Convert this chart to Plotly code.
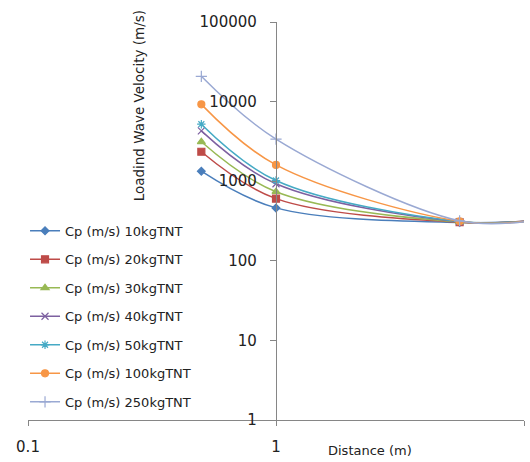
import plotly.graph_objects as go

# Distance from charge (m)
distance = [0.5, 1, 5.5, 10.5]

# Loading wave velocity Cp (m/s) for each charge mass
cp_10kg = [1336, 462, 302, 316]
cp_20kg = [2345, 604, 305, 316]
cp_30kg = [3125, 738, 308, 316]
cp_40kg = [4290, 929, 310, 316]
cp_50kg = [5200, 1020, 312, 316]
cp_100kg = [9230, 1601, 314, 316]
cp_250kg = [20800, 3380, 318, 316]

series_names = [
    "Cp (m/s) 10kgTNT", "Cp (m/s) 20kgTNT", "Cp (m/s) 30kgTNT",
    "Cp (m/s) 40kgTNT", "Cp (m/s) 50kgTNT", "Cp (m/s) 100kgTNT",
    "Cp (m/s) 250kgTNT",
]
series_values = [cp_10kg, cp_20kg, cp_30kg, cp_40kg, cp_50kg, cp_100kg, cp_250kg]
colors = ["#4a7ebb", "#be4b48", "#98b954", "#7d60a0", "#46aac5", "#f79646", "#9aa9d3"]
symbols = ["diamond", "square", "triangle-up", "x-thin-open", "asterisk-open",
           "circle", "cross-thin-open"]
sizes = [6, 7, 7, 7, 7, 7, 8]

y_ticks = [1, 10, 100, 1000, 10000, 100000]
x_ticks = [0.1, 1, 10]

FONT = "DejaVu Sans"

fig = go.Figure()
for i, (name, vals) in enumerate(zip(series_names, series_values)):
    fig.add_trace(go.Scatter(
        x=distance, y=vals, name=name, mode="lines+markers",
        legendgroup=f"g{i}",
        line=dict(color=colors[i], width=1.5, shape="spline", smoothing=1),
        marker=dict(symbol=symbols[i], size=sizes[i], color=colors[i],
                    line=dict(color=colors[i], width=1.2)),
        cliponaxis=False,
    ))

axis_grey = "#868686"
fig.update_layout(
    width=530, height=462,
    margin=dict(l=28, r=6, t=22, b=39),
    paper_bgcolor="white", plot_bgcolor="white",
    font=dict(family=FONT, size=12, color="#222"),
    showlegend=True,
    legend=dict(
        x=-0.006, y=0.513, xanchor="left", yanchor="top",
        bgcolor="rgba(255,255,255,0.9)", borderwidth=0,
        font=dict(family=FONT, size=13, color="#222"),
        tracegroupgap=8.6, itemwidth=30,
    ),
    xaxis=dict(
        type="log", range=[-1, 1], showgrid=False, zeroline=False,
        showline=True, linecolor=axis_grey, linewidth=1.3,
        ticks="outside", ticklen=5, tickcolor=axis_grey,
        tickvals=x_ticks, ticktext=["0.1", "1", "10"],
        tickfont=dict(family=FONT, size=15, color="#222"),
        ticklabelstandoff=8,
    ),
    yaxis=dict(
        type="log", range=[0, 5], showgrid=False, zeroline=False,
        showline=True, linecolor=axis_grey, linewidth=1.3,
        anchor="free", position=0.5,
        ticks="outside", ticklen=6, tickcolor=axis_grey,
        tickvals=y_ticks, ticktext=[str(v) for v in y_ticks],
        tickfont=dict(family=FONT, size=15, color="#222"),
        ticklabelstandoff=10,
    ),
    annotations=[
        dict(text="Loadind Wave Velocity (m/s)", textangle=-90,
             xref="paper", yref="paper", x=(139 - 28) / 496, y=(423 - 107) / 401,
             xanchor="center", yanchor="middle",
             showarrow=False, font=dict(family=FONT, size=13.5, color="#222")),
        dict(text="Distance (m)",
             xref="paper", yref="paper", x=(370 - 28) / 496, y=(423 - 454) / 401,
             xanchor="center", yanchor="middle",
             showarrow=False, font=dict(family=FONT, size=13, color="#222")),
    ],
)

fig.write_html("out.html")
